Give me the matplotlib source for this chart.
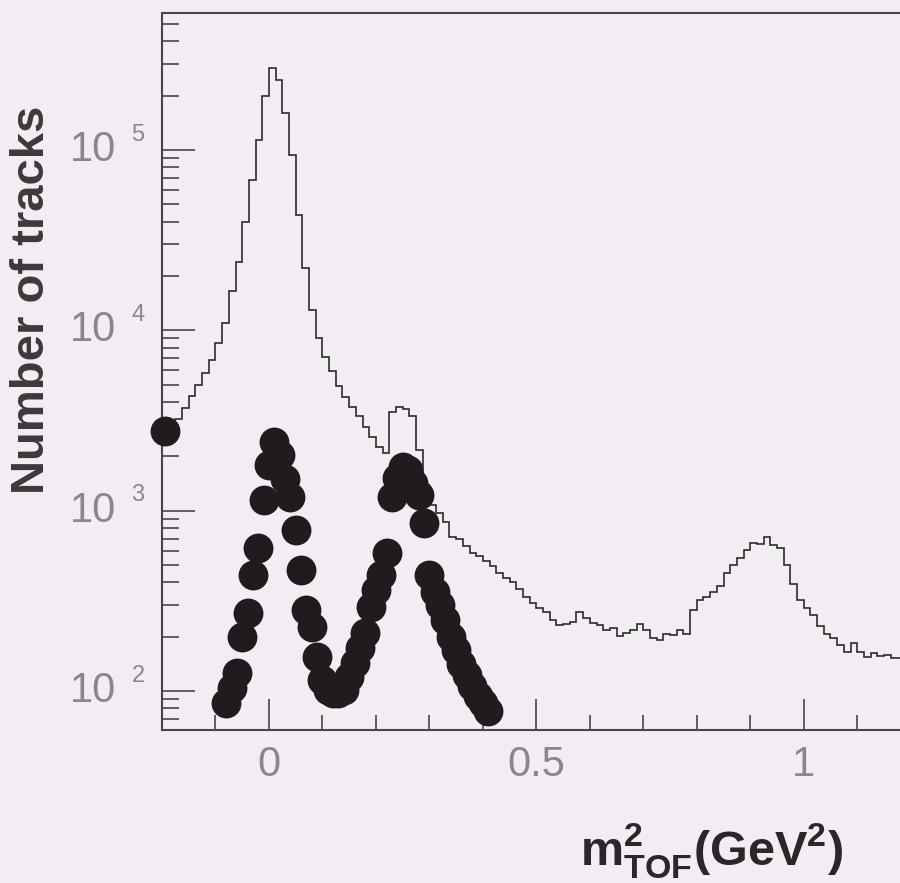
import numpy as np
import matplotlib
matplotlib.use('Agg')
import matplotlib.pyplot as plt
from matplotlib.ticker import FixedLocator, MultipleLocator, LogLocator, NullFormatter

# histogram of m2 TOF (all tracks), bins of 0.0125 GeV^2 starting at -0.2
bin_lo = -0.2
bin_w = 0.0125
counts = [2550, 2900, 3210, 3700, 4310, 4950, 5780, 6820, 8470, 10900,
          16400, 23800, 39700, 67700, 113000, 200000, 286000, 243000, 161000, 93300,
          43400, 22000, 12900, 9040, 7080, 5930, 4900, 4260, 3740, 3340,
          2900, 2550, 2250, 2080, 3520, 3740, 3650, 3340, 2160, 1380,
          1070, 968, 863, 713, 700, 636, 582, 560, 525, 493,
          451, 423, 402, 367, 332, 307, 289, 274, 247, 232,
          235, 241, 274, 254, 238, 232, 218, 223, 202, 210,
          218, 235, 218, 197, 192, 207, 204, 218, 207, 281,
          319, 332, 353, 382, 451, 499, 546, 604, 661, 652,
          713, 644, 619, 499, 392, 319, 289, 264, 229, 207,
          197, 180, 164, 185, 164, 154, 162, 156, 158, 152,
          152]

# selected tracks (black dots)
dot_x = [-0.195,
         -0.08, -0.07, -0.06, -0.05, -0.04, -0.03, -0.02, -0.01, 0.0, 0.01,
         0.02, 0.03, 0.04, 0.05, 0.06, 0.07, 0.08, 0.09, 0.10, 0.11,
         0.12, 0.13, 0.14, 0.15, 0.16, 0.17, 0.18, 0.19, 0.20, 0.21,
         0.22, 0.23, 0.24, 0.25, 0.26, 0.27, 0.28, 0.29, 0.30, 0.31,
         0.32, 0.33, 0.34, 0.35, 0.36, 0.37, 0.38, 0.39, 0.40, 0.41]
dot_y = [2770,
         86, 104, 126, 199, 270, 440, 619, 1140, 1790, 2390,
         2030, 1500, 1190, 780, 468, 281, 226, 154, 115, 101,
         97, 97, 101, 120, 143, 173, 210, 292, 363, 440,
         582, 1190, 1510, 1740, 1680, 1420, 1220, 853, 440, 353,
         299, 247, 199, 169, 141, 123, 107, 94, 86, 77]

ytick_exp = [2, 3, 4, 5]
xtick_major = [0, 0.5, 1]
xtick_labels = ['0', '0.5', '1']

bg = '#f1edf2'
dark = '#4a4448'
label_gray = '#8a868a'

fig = plt.figure(figsize=(9, 8.83), dpi=100, facecolor=bg)
ax = fig.add_axes([0.18, 0.1733, 0.82, 0.812])
ax.set_facecolor(bg)

edges = bin_lo + bin_w * np.arange(len(counts) + 1)
ax.stairs(counts, edges, baseline=None, color='#2e2b2e', linewidth=1.2, zorder=2)
ax.plot(dot_x, dot_y, 'o', ms=21.5, color='#211b1f', mec='none', clip_on=False, zorder=3)

ax.set_yscale('log')
ax.set_xlim(-0.2, 1.18)
ax.set_ylim(60.8, 574000)

ax.spines['right'].set_visible(False)
for s in ['left', 'bottom', 'top']:
    ax.spines[s].set_color(dark)
    ax.spines[s].set_linewidth(1.5)

ax.xaxis.set_major_locator(FixedLocator(xtick_major))
ax.xaxis.set_minor_locator(MultipleLocator(0.1))
ax.set_xticklabels(xtick_labels, fontsize=30, color=label_gray, family='Liberation Sans')
ax.tick_params(axis='x', which='major', direction='in', length=22, width=1.2, color=dark, pad=11,
               top=False)
ax.tick_params(axis='x', which='minor', direction='in', length=11, width=1.2, color=dark, top=False)

ax.yaxis.set_major_locator(FixedLocator([10.0 ** e for e in ytick_exp]))
ax.yaxis.set_minor_locator(LogLocator(base=10, subs=np.arange(2, 10)))
ax.yaxis.set_major_formatter(NullFormatter())
ax.yaxis.set_minor_formatter(NullFormatter())
ax.tick_params(axis='y', which='major', direction='in', length=24, width=1.2, color=dark, right=False)
ax.tick_params(axis='y', which='minor', direction='in', length=12, width=1.2, color=dark, right=False)

# y tick labels drawn as 10 with a detached exponent
for e in ytick_exp:
    ax.annotate('10', xy=(0, 10.0 ** e), xycoords=('axes fraction', 'data'),
                xytext=(-33, 0), textcoords='offset points', ha='right', va='center',
                fontsize=30, color=label_gray, family='Liberation Sans')
    ax.annotate(str(e), xy=(0, 10.0 ** e), xycoords=('axes fraction', 'data'),
                xytext=(-22, 11), textcoords='offset points', ha='left', va='center',
                fontsize=17, color=label_gray, family='Liberation Sans')

fig.text(32 / 900, 1 - 300 / 883, 'Number of tracks', rotation=90, ha='center', va='center',
         fontsize=34, fontweight='bold', color='#3c383b', family='Liberation Sans')
fig.text(712 / 900, 1 - 850 / 883, r'$\mathregular{m^{2}_{TOF}(GeV^{2})}$', ha='center', va='center',
         fontsize=35, fontweight='bold', color='#2a2629', family='Liberation Sans')

fig.savefig('out.png', dpi=100, facecolor=bg)
